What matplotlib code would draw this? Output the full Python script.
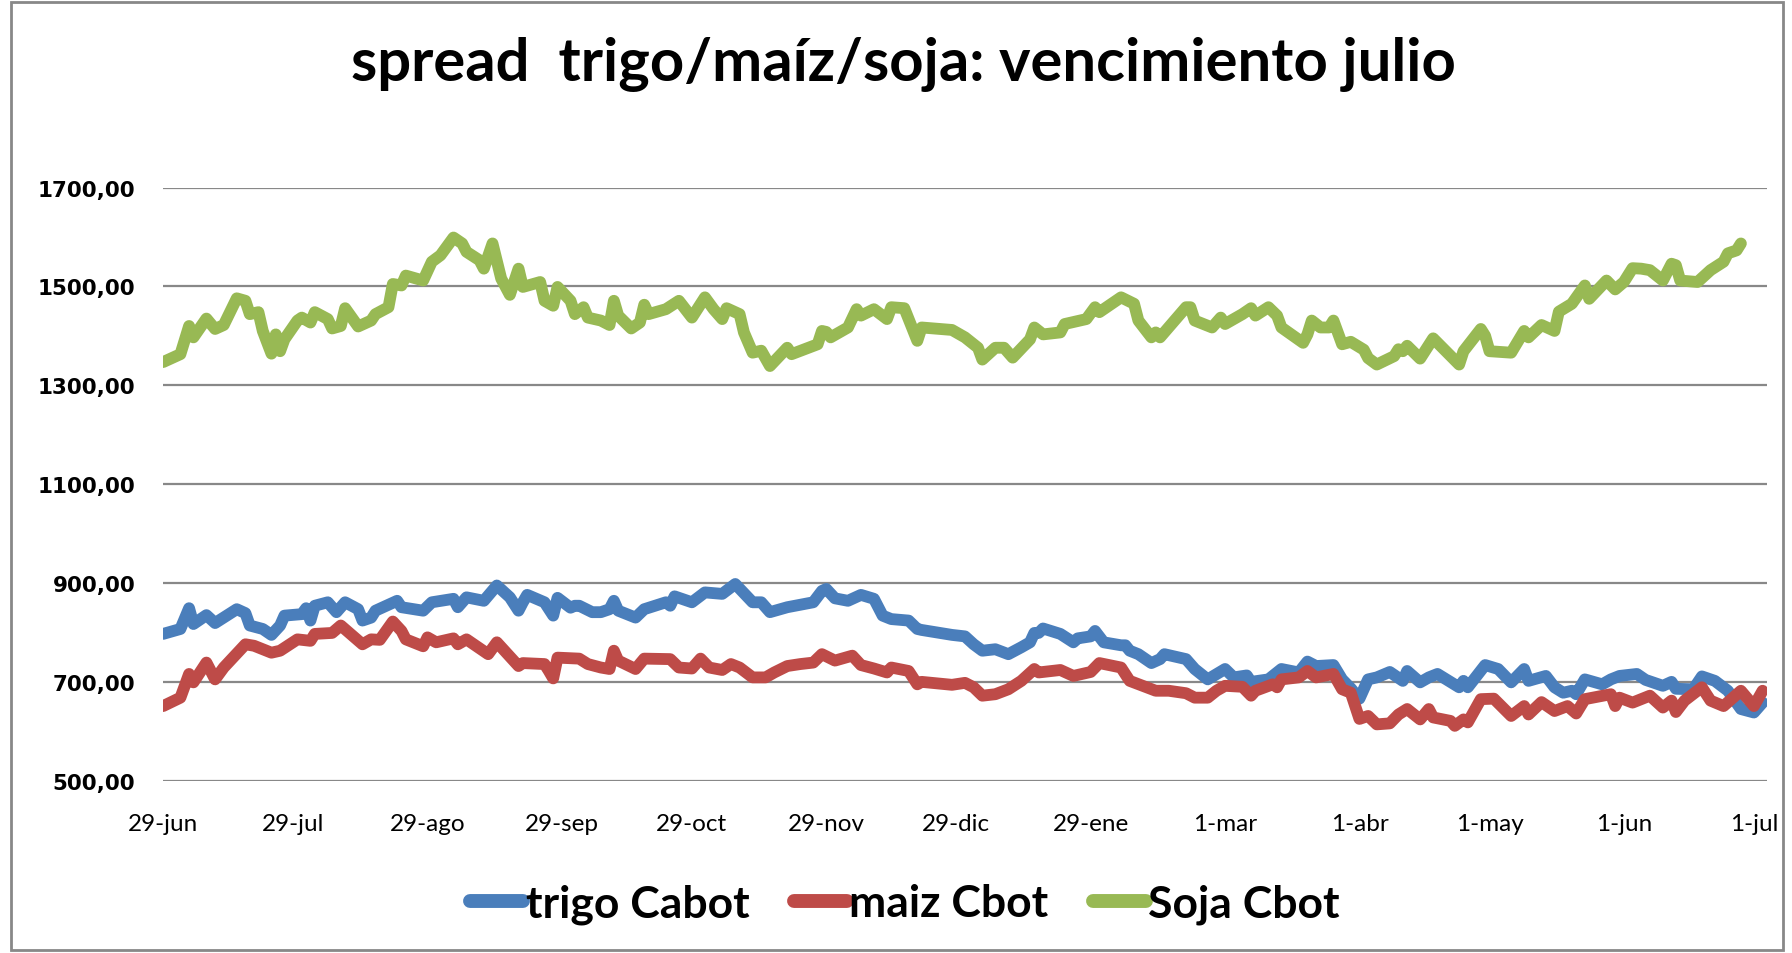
import datetime as dt
import matplotlib
matplotlib.use("Agg")
import matplotlib.pyplot as plt
from matplotlib.patches import Rectangle

# dias contados desde el 29-jun-2012
inicio = dt.date(2012, 6, 29)

dias_trigo = [0, 4, 6, 7, 10, 12, 17, 19, 20, 23, 25, 27, 28, 32, 33, 34, 35, 38, 40, 42,
              45, 46, 48, 49, 54, 55, 60, 62, 67, 68, 70, 74, 77, 80, 82, 83, 84, 88, 90, 91,
              94, 95, 96, 99, 101, 103, 104, 105, 109, 111, 116, 117, 118, 122, 125, 129, 132, 136, 138, 140,
              144, 150, 152, 153, 155, 158, 161, 164, 166, 168, 172, 174, 175, 182, 185, 187, 189, 192, 195, 198,
              200, 201, 202, 203, 207, 210, 211, 214, 215, 217, 221, 222, 223, 225, 228, 230, 231, 236, 238, 241,
              245, 247, 250, 251, 255, 256, 258, 262, 264, 266, 270, 272, 274, 276, 278, 280, 283, 286, 287, 290,
              292, 294, 299, 300, 301, 305, 308, 311, 314, 315, 319, 321, 323, 325, 326, 328, 332, 334, 336, 340,
              342, 346, 348, 349, 353, 355, 358, 361, 364, 367, 369]
trigo = [797, 807, 849, 817, 835, 819, 847, 839, 814, 807, 795, 814, 834, 837, 849, 824, 854, 861, 841, 861,
         847, 824, 830, 844, 864, 851, 844, 861, 868, 851, 871, 864, 895, 871, 844, 861, 876, 861, 834, 870,
         850, 854, 854, 841, 841, 847, 864, 844, 830, 847, 861, 854, 873, 861, 881, 878, 898, 861, 861, 841,
         851, 861, 884, 888, 869, 864, 876, 868, 834, 827, 824, 807, 805, 795, 792, 776, 763, 766, 756, 770,
         780, 799, 799, 808, 797, 780, 788, 792, 803, 780, 774, 774, 763, 756, 738, 746, 756, 746, 726, 705,
         726, 709, 713, 700, 705, 712, 726, 719, 741, 732, 734, 705, 687, 666, 705, 709, 720, 702, 722, 699,
         709, 716, 689, 702, 689, 734, 726, 699, 726, 702, 712, 689, 678, 682, 675, 705, 695, 705, 712, 716,
         704, 692, 700, 686, 685, 711, 702, 682, 645, 638, 658]

dias_maiz = [0, 4, 6, 7, 10, 12, 14, 19, 21, 25, 27, 31, 34, 35, 39, 41, 46, 48, 50, 53,
             55, 56, 60, 61, 63, 67, 68, 70, 75, 77, 82, 83, 88, 89, 90, 91, 96, 98, 101, 103,
             104, 105, 109, 111, 117, 119, 122, 124, 126, 129, 131, 133, 136, 139, 141, 144, 147, 150, 152, 155,
             159, 161, 164, 167, 168, 172, 174, 175, 182, 185, 187, 189, 192, 195, 198, 201, 202, 207, 210, 214,
             216, 221, 223, 226, 229, 232, 236, 238, 241, 243, 245, 249, 251, 252, 256, 257, 258, 262, 264, 266,
             270, 272, 274, 276, 278, 280, 283, 285, 287, 290, 292, 293, 297, 298, 300, 301, 304, 307, 311, 314,
             315, 318, 321, 324, 326, 328, 334, 335, 336, 339, 343, 346, 348, 349, 351, 355, 357, 360, 364, 367,
             369]
maiz = [651, 668, 716, 699, 739, 705, 729, 776, 773, 759, 763, 786, 783, 797, 799, 814, 776, 786, 785, 822,
        803, 786, 772, 790, 780, 788, 776, 786, 756, 780, 732, 738, 736, 722, 707, 749, 747, 736, 729, 726,
        763, 743, 726, 747, 746, 729, 727, 747, 729, 724, 736, 729, 709, 709, 719, 732, 736, 739, 756, 743,
        753, 734, 727, 719, 729, 722, 695, 700, 694, 698, 689, 672, 675, 685, 702, 726, 719, 724, 712, 720,
        738, 729, 702, 692, 682, 682, 677, 668, 668, 682, 692, 690, 672, 682, 695, 689, 705, 709, 722, 709,
        716, 685, 678, 625, 631, 614, 616, 634, 645, 624, 645, 628, 621, 611, 624, 618, 665, 666, 631, 651,
        634, 659, 641, 651, 636, 665, 675, 651, 668, 658, 672, 648, 662, 639, 662, 689, 662, 651, 682, 651,
        682]

dias_soja = [0, 4, 6, 7, 10, 12, 14, 17, 19, 20, 22, 23, 25, 26, 27, 28, 31, 32, 34, 35,
             38, 39, 41, 42, 45, 48, 49, 52, 53, 55, 56, 60, 62, 64, 67, 69, 70, 73, 74, 76,
             78, 80, 82, 83, 87, 88, 90, 91, 94, 95, 97, 98, 101, 103, 104, 105, 108, 110, 111, 112,
             116, 119, 122, 125, 127, 129, 130, 133, 134, 136, 138, 140, 144, 145, 151, 152, 153, 154, 158, 160,
             161, 164, 167, 168, 171, 174, 175, 182, 185, 188, 189, 192, 194, 196, 200, 201, 203, 207, 208, 213,
             215, 216, 221, 224, 225, 228, 229, 230, 236, 237, 238, 242, 244, 245, 249, 251, 252, 255, 257, 258,
             263, 264, 265, 267, 269, 270, 272, 274, 277, 278, 280, 284, 285, 286, 287, 290, 293, 299, 300, 304,
             305, 306, 311, 314, 315, 318, 321, 322, 325, 328, 329, 333, 335, 337, 339, 341, 343, 346, 348, 349,
             350, 354, 357, 360, 361, 363, 364]
soja = [1347, 1363, 1420, 1397, 1435, 1414, 1422, 1476, 1471, 1444, 1448, 1410, 1364, 1403, 1369, 1393, 1431, 1437, 1427, 1448,
        1434, 1415, 1420, 1456, 1419, 1431, 1444, 1458, 1505, 1502, 1522, 1512, 1550, 1563, 1599, 1587, 1570, 1553, 1536, 1587,
        1516, 1483, 1536, 1499, 1509, 1471, 1461, 1499, 1471, 1444, 1458, 1437, 1431, 1422, 1471, 1441, 1415, 1427, 1463, 1444,
        1454, 1471, 1437, 1478, 1454, 1434, 1456, 1444, 1407, 1366, 1370, 1339, 1376, 1363, 1383, 1410, 1408, 1397, 1417, 1454,
        1441, 1454, 1434, 1458, 1456, 1390, 1417, 1412, 1397, 1376, 1352, 1376, 1376, 1356, 1393, 1417, 1403, 1407, 1424, 1434,
        1458, 1448, 1478, 1465, 1431, 1397, 1407, 1397, 1458, 1458, 1431, 1417, 1437, 1424, 1444, 1456, 1441, 1458, 1441, 1417,
        1386, 1403, 1431, 1417, 1417, 1431, 1383, 1388, 1372, 1355, 1342, 1359, 1373, 1369, 1380, 1354, 1395, 1342, 1369, 1414,
        1400, 1369, 1366, 1410, 1397, 1422, 1410, 1449, 1465, 1502, 1475, 1512, 1494, 1509, 1537, 1536, 1533, 1512, 1546, 1543,
        1512, 1509, 1533, 1550, 1567, 1573, 1587]

etiquetas_x = ["29-jun", "29-jul", "29-ago", "29-sep", "29-oct", "29-nov", "29-dic",
               "29-ene", "1-mar", "1-abr", "1-may", "1-jun", "1-jul"]
fechas_x = [dt.date(2012, 6, 29), dt.date(2012, 7, 29), dt.date(2012, 8, 29), dt.date(2012, 9, 29),
            dt.date(2012, 10, 29), dt.date(2012, 11, 29), dt.date(2012, 12, 29), dt.date(2013, 1, 29),
            dt.date(2013, 3, 1), dt.date(2013, 4, 1), dt.date(2013, 5, 1), dt.date(2013, 6, 1),
            dt.date(2013, 7, 1)]
ticks_y = [500, 700, 900, 1100, 1300, 1500, 1700]


def a_fechas(dias):
    return [inicio + dt.timedelta(days=d) for d in dias]


fig = plt.figure(figsize=(17.92, 9.54), dpi=100)
ax = fig.add_axes([0.091, 0.1806, 0.895, 0.6217])

estilo = dict(linewidth=8.5, solid_capstyle="round", solid_joinstyle="round")
ax.plot(a_fechas(dias_trigo), trigo, color="#4A7EBB", label="trigo Cabot", **estilo)
ax.plot(a_fechas(dias_maiz), maiz, color="#BE4B48", label="maiz Cbot", **estilo)
ax.plot(a_fechas(dias_soja), soja, color="#98B954", label="Soja Cbot", **estilo)

ax.set_ylim(500, 1700)
ax.set_yticks(ticks_y)
ax.set_yticklabels([f"{v:.2f}".replace(".", ",") for v in ticks_y],
                   fontfamily="DejaVu Sans", fontweight="bold", fontsize=15.5)
ax.set_xlim(inicio, inicio + dt.timedelta(days=370))
ax.set_xticks(fechas_x)
ax.set_xticklabels(etiquetas_x, fontfamily="Lato", fontsize=17.5)
ax.tick_params(axis="both", length=0)
ax.tick_params(axis="y", pad=20)
ax.tick_params(axis="x", pad=23)

ax.grid(axis="y", color="#888888", linewidth=1.6)
ax.set_axisbelow(True)
for s in ax.spines.values():
    s.set_visible(False)

fig.text(0.504, 0.932, "spread  trigo/maíz/soja: vencimiento julio", ha="center", va="center",
         fontfamily="Lato", fontweight="bold", fontsize=43)

leg = fig.legend(loc="center", bbox_to_anchor=(0.505, 0.052), ncol=3, frameon=False,
                 prop={"family": "Lato", "weight": "bold", "size": 32},
                 handlelength=1.2, handletextpad=0.05, columnspacing=1.0)
for h in leg.get_lines():
    h.set_linewidth(10)
    h.set_solid_capstyle("round")

# marco exterior del grafico
fig.patches.append(Rectangle((0.006, 0.003), 0.989, 0.994, transform=fig.transFigure,
                             fill=False, edgecolor="#888888", linewidth=2))

fig.savefig("out.png", dpi=100)
